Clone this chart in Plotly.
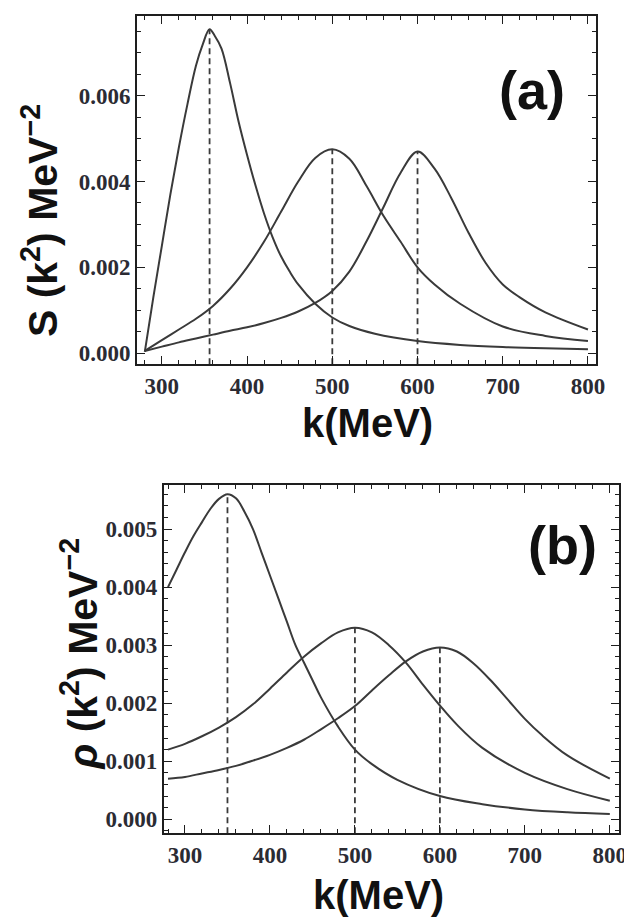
import plotly.graph_objects as go

W, H = 632, 917

# ---------------- Panel (a): S(k^2) ----------------
a1_k = [280, 290, 300, 310, 320, 330, 340, 348, 356, 362, 370, 380, 390, 400, 410, 420, 430, 440, 450, 460, 480, 500, 520, 550, 600, 650, 700, 750, 800]
a1_v = [0.00003, 0.0013, 0.0025, 0.0037, 0.0048, 0.0058, 0.0067, 0.0072, 0.00755, 0.0074, 0.0071, 0.0063, 0.0054, 0.00462, 0.0039, 0.00325, 0.0027, 0.00225, 0.0019, 0.0016, 0.00115, 0.00083, 0.00063, 0.00045, 0.00028, 0.00019, 0.00014, 0.00011, 0.00009]

a2_k = [280, 300, 320, 340, 360, 380, 400, 420, 440, 460, 480, 500, 520, 540, 560, 580, 600, 620, 650, 700, 750, 800]
a2_v = [0.00005, 0.0003, 0.00055, 0.0008, 0.0011, 0.0015, 0.0020, 0.0026, 0.0033, 0.0040, 0.00455, 0.00475, 0.00453, 0.0039, 0.0032, 0.0026, 0.0020, 0.0016, 0.00115, 0.00062, 0.0004, 0.00028]

a3_k = [280, 300, 320, 340, 360, 380, 400, 420, 440, 460, 480, 500, 520, 540, 560, 580, 600, 620, 640, 660, 680, 700, 720, 750, 800]
a3_v = [0.00005, 0.00015, 0.00025, 0.00034, 0.00043, 0.00052, 0.0006, 0.0007, 0.00082, 0.00097, 0.00117, 0.00145, 0.0019, 0.0026, 0.0034, 0.0042, 0.0047, 0.0043, 0.0036, 0.0028, 0.0021, 0.0016, 0.0013, 0.00095, 0.00055]

a_peak_k = [356, 500, 600]
a_peak_v = [0.00755, 0.00475, 0.0047]

# ---------------- Panel (b): rho(k^2) ----------------
b1_k = [280, 290, 300, 310, 320, 330, 340, 350, 360, 370, 380, 390, 400, 410, 420, 430, 440, 450, 460, 480, 500, 520, 550, 600, 650, 700, 750, 800]
b1_v = [0.0040, 0.0043, 0.0046, 0.00488, 0.00512, 0.00535, 0.00552, 0.0056, 0.00553, 0.0053, 0.0050, 0.0046, 0.0042, 0.0038, 0.0034, 0.0030, 0.0027, 0.0024, 0.0021, 0.0016, 0.0012, 0.00095, 0.00068, 0.0004, 0.00026, 0.00017, 0.00012, 0.00009]

b2_k = [280, 300, 320, 340, 360, 380, 400, 420, 440, 460, 480, 500, 520, 540, 560, 580, 600, 620, 650, 700, 750, 800]
b2_v = [0.0012, 0.0013, 0.00143, 0.00158, 0.00176, 0.00198, 0.00225, 0.00253, 0.0028, 0.00303, 0.00322, 0.0033, 0.00322, 0.0030, 0.0027, 0.00232, 0.00196, 0.00163, 0.00123, 0.0008, 0.00052, 0.00032]

b3_k = [280, 300, 320, 340, 360, 380, 400, 420, 440, 460, 480, 500, 520, 540, 560, 580, 600, 620, 640, 660, 680, 700, 720, 750, 800]
b3_v = [0.0007, 0.00073, 0.00079, 0.00085, 0.00092, 0.00101, 0.00111, 0.00123, 0.00137, 0.00155, 0.00174, 0.00195, 0.00222, 0.00248, 0.00272, 0.00289, 0.00296, 0.00289, 0.00268, 0.00239, 0.00206, 0.00173, 0.00145, 0.0011, 0.0007]

b_peak_k = [350, 500, 600]
b_peak_v = [0.0056, 0.0033, 0.00296]

a_xrange = [271, 810]
a_yrange = [-0.00026, 0.00786]
b_xrange = [275, 811]
b_yrange = [-0.00024, 0.00576]

LINE = "#3a3a3a"
FRAME = "#1e1e1e"
TICKC = "#2b2b33"

fig = go.Figure()

def add_curves(ks, vs, xa, ya):
    for k, v in zip(ks, vs):
        fig.add_trace(go.Scatter(x=k, y=v, mode="lines", xaxis=xa, yaxis=ya,
                                 line=dict(color=LINE, width=2, shape="spline", smoothing=1.0),
                                 showlegend=False, hoverinfo="skip"))

def add_dashes(pk, pv, ymin, xa, ya):
    for k, v in zip(pk, pv):
        fig.add_trace(go.Scatter(x=[k, k], y=[ymin, v], mode="lines", xaxis=xa, yaxis=ya,
                                 line=dict(color=LINE, width=1.8, dash="6px,4px"),
                                 showlegend=False, hoverinfo="skip"))

add_curves([a1_k, a2_k, a3_k], [a1_v, a2_v, a3_v], "x", "y")
add_dashes(a_peak_k, a_peak_v, a_yrange[0], "x", "y")
add_curves([b1_k, b2_k, b3_k], [b1_v, b2_v, b3_v], "x2", "y2")
add_dashes(b_peak_k, b_peak_v, b_yrange[0], "x2", "y2")

tickfont = dict(family="Liberation Serif", size=23, color=TICKC, weight="bold")

def xaxis(dom, rng, anchor):
    return dict(domain=dom, range=rng, anchor=anchor, showgrid=False, zeroline=False,
                showline=True, linecolor=FRAME, linewidth=2, mirror="allticks",
                ticks="inside", ticklen=8, tickwidth=1.4, tickcolor=FRAME,
                tickmode="array", tickvals=[300, 400, 500, 600, 700, 800],
                tickfont=tickfont,
                minor=dict(dtick=20, tick0=280, ticks="inside", ticklen=4, tickcolor=FRAME, tickwidth=1.2))

def yaxis(dom, rng, anchor, dt, mdt, fmt):
    return dict(domain=dom, range=rng, anchor=anchor, showgrid=False, zeroline=False,
                showline=True, linecolor=FRAME, linewidth=2, mirror="allticks",
                ticks="inside", ticklen=8, tickwidth=1.4, tickcolor=FRAME,
                tick0=0, dtick=dt, tickformat=fmt, tickfont=tickfont,
                minor=dict(dtick=mdt, tick0=0, ticks="inside", ticklen=4, tickcolor=FRAME, tickwidth=1.2))

fig.update_layout(
    width=W, height=H, margin=dict(l=0, r=0, t=0, b=0),
    paper_bgcolor="white", plot_bgcolor="white",
    xaxis=xaxis([131 / W, 597 / W], a_xrange, "y"),
    yaxis=yaxis([1 - 357 / H, 1 - 8 / H], a_yrange, "x", 0.002, 0.0005, ".3f"),
    xaxis2=xaxis([158 / W, 620 / W], b_xrange, "y2"),
    yaxis2=yaxis([1 - 827 / H, 1 - 478 / H], b_yrange, "x2", 0.001, 0.0002, ".3f"),
)

def ann(text, x, y, size, angle=0):
    fig.add_annotation(text=text, x=x / W, y=1 - y / H, xref="paper", yref="paper",
                       showarrow=False, textangle=angle, xanchor="center", yanchor="middle",
                       font=dict(family="Liberation Sans", size=size, color="#111", weight="bold"))

ann("S (k<sup>2</sup>) MeV<sup>\u22122</sup>", 32, 213, 41, -90)
ann("k(MeV)", 365, 416, 40)
ann("(a)", 532, 82, 54)
ann("<i>\u03c1</i> (k<sup>2</sup>) MeV<sup>\u22122</sup>", 72, 647, 41, -90)
ann("k(MeV)", 376, 889, 40)
ann("(b)", 563, 538, 54)

fig.write_html("out.html")
